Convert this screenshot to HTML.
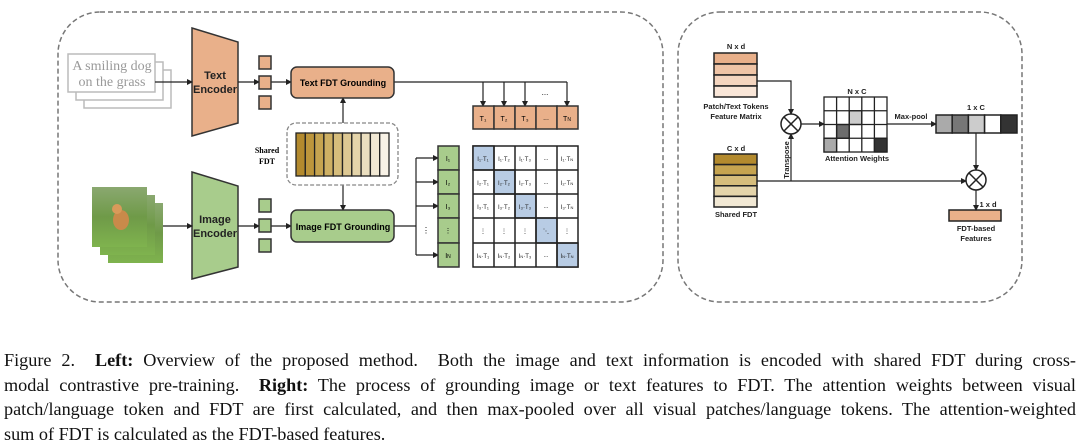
<!DOCTYPE html>
<html><head><meta charset="utf-8"><style>
body{margin:0;width:1080px;height:441px;background:#fff;overflow:hidden;position:relative}
.cap{position:absolute;left:4px;width:1072px;font-family:"Liberation Serif",serif;font-size:18.2px;line-height:20px;text-align:justify;text-align-last:justify;white-space:nowrap;color:#111}
.cap.l{text-align-last:left}
svg text{font-family:"Liberation Sans",sans-serif}
</style></head><body>
<svg width="1080" height="441" style="position:absolute;left:0;top:0">
<defs>
<marker id="a" markerWidth="6" markerHeight="6" refX="5" refY="3" orient="auto" markerUnits="userSpaceOnUse"><path d="M0,0 L6,3 L0,6 z" fill="#222"/></marker>
<linearGradient id="dog" x1="0" y1="0" x2="0" y2="1"><stop offset="0" stop-color="#8aa870"/><stop offset="0.5" stop-color="#6f9a48"/><stop offset="1" stop-color="#7fb34e"/></linearGradient>
</defs>
<g fill="none" stroke="#777" stroke-width="1.5" stroke-dasharray="5,3">
<rect x="58" y="12" width="605" height="290" rx="42"/>
<rect x="678" y="12" width="344" height="290" rx="42"/>
</g>
<!-- text stack -->
<g fill="#fff" stroke="#bbb" stroke-width="1.5">
<rect x="84" y="70" width="87" height="38"/><rect x="76" y="62" width="87" height="38"/><rect x="68" y="54" width="87" height="38"/>
</g>
<text x="112" y="70" font-family="Liberation Serif" style="font-family:'Liberation Serif',serif" font-size="14" fill="#999" text-anchor="middle">A smiling dog</text>
<text x="112" y="86" style="font-family:'Liberation Serif',serif" font-size="14" fill="#999" text-anchor="middle">on the grass</text>
<!-- image stack -->
<rect x="108" y="203" width="55" height="60" fill="url(#dog)"/>
<rect x="100" y="195" width="55" height="60" fill="url(#dog)"/>
<rect x="92" y="187" width="55" height="60" fill="url(#dog)"/>
<ellipse cx="121" cy="220" rx="8" ry="10" fill="#c98a4a"/><circle cx="117" cy="209" r="5" fill="#d99a5a"/>
<!-- encoders -->
<polygon points="192,28 238,42 238,123 192,136" fill="#e9b08a" stroke="#333" stroke-width="1.5"/>
<text x="215" y="79" font-size="11" font-weight="bold" text-anchor="middle" fill="#222">Text</text>
<text x="215" y="93" font-size="11" font-weight="bold" text-anchor="middle" fill="#222">Encoder</text>
<polygon points="192,172 238,186 238,267 192,279" fill="#a8cc8c" stroke="#333" stroke-width="1.5"/>
<text x="215" y="223" font-size="11" font-weight="bold" text-anchor="middle" fill="#222">Image</text>
<text x="215" y="237" font-size="11" font-weight="bold" text-anchor="middle" fill="#222">Encoder</text>
<g stroke="#222" stroke-width="1.2" fill="none" marker-end="url(#a)">
<line x1="155" y1="82" x2="192" y2="82"/><line x1="238" y1="82" x2="259" y2="82"/><line x1="271" y1="82" x2="291" y2="82"/>
<line x1="163" y1="226" x2="192" y2="226"/><line x1="238" y1="226" x2="259" y2="226"/><line x1="271" y1="226" x2="291" y2="226"/>
<line x1="343" y1="123" x2="343" y2="98"/><line x1="343" y1="185" x2="343" y2="210"/>
<line x1="483" y1="82" x2="483" y2="106"/><line x1="504" y1="82" x2="504" y2="106"/><line x1="525" y1="82" x2="525" y2="106"/><line x1="567" y1="82" x2="567" y2="106"/>
<line x1="416" y1="158" x2="438" y2="158"/><line x1="416" y1="182" x2="438" y2="182"/><line x1="416" y1="206" x2="438" y2="206"/><line x1="416" y1="255" x2="438" y2="255"/>
</g>
<g stroke="#222" stroke-width="1.2" fill="none">
<polyline points="394,82 567,82"/><line x1="394" y1="226" x2="416" y2="226"/><line x1="416" y1="158" x2="416" y2="255"/>
</g>
<text x="545" y="95" font-size="8" text-anchor="middle">...</text>
<text x="426" y="233" font-size="8" text-anchor="middle">⋮</text>
<g stroke="#333" stroke-width="1.5">
<rect x="259" y="56" width="12" height="13" fill="#e9b08a"/><rect x="259" y="76" width="12" height="13" fill="#e9b08a"/><rect x="259" y="96" width="12" height="13" fill="#e9b08a"/>
<rect x="259" y="199" width="12" height="13" fill="#a8cc8c"/><rect x="259" y="219" width="12" height="13" fill="#a8cc8c"/><rect x="259" y="239" width="12" height="13" fill="#a8cc8c"/>
<rect x="291" y="67" width="103" height="31" rx="6" fill="#e9b08a"/>
<rect x="291" y="210" width="103" height="32" rx="6" fill="#a8cc8c"/>
</g>
<text x="343" y="86" font-size="9" font-weight="bold" text-anchor="middle">Text FDT Grounding</text>
<text x="343" y="230" font-size="9" font-weight="bold" text-anchor="middle">Image FDT Grounding</text>
<rect x="287" y="123" width="111" height="62" rx="9" fill="none" stroke="#888" stroke-width="1.3" stroke-dasharray="4,2"/>
<g stroke="#222" stroke-width="1.3">
<rect x="296" y="133" width="9.3" height="43" fill="#b38a2e"/><rect x="305.3" y="133" width="9.3" height="43" fill="#bd963c"/><rect x="314.6" y="133" width="9.3" height="43" fill="#c6a450"/><rect x="323.9" y="133" width="9.3" height="43" fill="#ceb064"/><rect x="333.2" y="133" width="9.3" height="43" fill="#d6bd7c"/><rect x="342.5" y="133" width="9.3" height="43" fill="#ddc893"/><rect x="351.8" y="133" width="9.3" height="43" fill="#e4d4aa"/><rect x="361.1" y="133" width="9.3" height="43" fill="#ebdfc0"/><rect x="370.4" y="133" width="9.3" height="43" fill="#f1e8d4"/><rect x="379.7" y="133" width="9.3" height="43" fill="#f8f2e6"/>
</g>
<text x="267" y="153" style="font-family:'Liberation Serif',serif" font-size="8" font-weight="bold" text-anchor="middle">Shared</text>
<text x="267" y="164" style="font-family:'Liberation Serif',serif" font-size="8" font-weight="bold" text-anchor="middle">FDT</text>
<!-- T row -->
<g stroke="#333" stroke-width="1.5" fill="#e9b08a">
<rect x="473" y="106" width="21" height="23"/><rect x="494" y="106" width="21" height="23"/><rect x="515" y="106" width="21" height="23"/><rect x="536" y="106" width="21" height="23"/><rect x="557" y="106" width="21" height="23"/>
</g>
<g font-size="7" text-anchor="middle">
<text x="483" y="121">T₁</text><text x="504" y="121">T₂</text><text x="525" y="121">T₃</text><text x="546" y="120">...</text><text x="567" y="121">T<tspan font-size="5">N</tspan></text>
</g>
<!-- I column -->
<g stroke="#333" stroke-width="1.5" fill="#a8cc8c">
<rect x="438" y="146" width="21" height="24"/><rect x="438" y="170" width="21" height="24"/><rect x="438" y="194" width="21" height="24"/><rect x="438" y="218" width="21" height="25"/><rect x="438" y="243" width="21" height="24"/>
</g>
<g font-size="7" text-anchor="middle"><text x="448" y="161">I₁</text><text x="448" y="185">I₂</text><text x="448" y="209">I₃</text><text x="448" y="233">⋮</text><text x="448" y="258">I<tspan font-size="5">N</tspan></text></g>
<!-- matrix -->
<g stroke="#222" stroke-width="1.5" fill="#fff">
<rect x="473" y="146" width="105" height="121"/>
<rect x="473" y="146" width="21" height="24" fill="#b8cce4"/><rect x="494" y="170" width="21" height="24" fill="#b8cce4"/><rect x="515" y="194" width="21" height="24" fill="#b8cce4"/><rect x="536" y="218" width="21" height="25" fill="#b8cce4"/><rect x="557" y="243" width="21" height="24" fill="#b8cce4"/>
<line x1="494" y1="146" x2="494" y2="267"/><line x1="515" y1="146" x2="515" y2="267"/><line x1="536" y1="146" x2="536" y2="267"/><line x1="557" y1="146" x2="557" y2="267"/>
<line x1="473" y1="170" x2="578" y2="170"/><line x1="473" y1="194" x2="578" y2="194"/><line x1="473" y1="218" x2="578" y2="218"/><line x1="473" y1="243" x2="578" y2="243"/>
</g>
<g font-size="6" text-anchor="middle" fill="#222">
<text x="483" y="161">I₁·T₁</text><text x="504" y="161">I₁·T₂</text><text x="525" y="161">I₁·T₃</text><text x="546" y="160">...</text><text x="567" y="161">I₁·T<tspan font-size="4">N</tspan></text>
<text x="483" y="185">I₂·T₁</text><text x="504" y="185">I₂·T₂</text><text x="525" y="185">I₂·T₃</text><text x="546" y="184">...</text><text x="567" y="185">I₂·T<tspan font-size="4">N</tspan></text>
<text x="483" y="209">I₃·T₁</text><text x="504" y="209">I₃·T₂</text><text x="525" y="209">I₃·T₃</text><text x="546" y="208">...</text><text x="567" y="209">I₃·T<tspan font-size="4">N</tspan></text>
<text x="483" y="233">⋮</text><text x="504" y="233">⋮</text><text x="525" y="233">⋮</text><text x="546" y="233">⋱</text><text x="567" y="233">⋮</text>
<text x="483" y="258">I<tspan font-size="4">N</tspan>·T₁</text><text x="504" y="258">I<tspan font-size="4">N</tspan>·T₂</text><text x="525" y="258">I<tspan font-size="4">N</tspan>·T₃</text><text x="546" y="257">...</text><text x="567" y="258">I<tspan font-size="4">N</tspan>·T<tspan font-size="4">N</tspan></text>
</g>
<!-- RIGHT -->
<g font-size="7.5" font-weight="bold" text-anchor="middle" fill="#222">
<text x="736" y="49">N x d</text><text x="736" y="109">Patch/Text Tokens</text><text x="736" y="119">Feature Matrix</text>
<text x="736" y="151">C x d</text><text x="736" y="217">Shared FDT</text>
<text x="857" y="94">N x C</text><text x="857" y="161">Attention Weights</text>
<text x="976" y="110">1 x C</text><text x="911" y="119">Max-pool</text>
<text x="988" y="207">1 x d</text><text x="976" y="231">FDT-based</text><text x="976" y="241">Features</text>
<text transform="translate(789,160) rotate(-90)" x="0" y="0">Transpose</text>
</g>
<g stroke="#222" stroke-width="1.5">
<rect x="714" y="53" width="43" height="11" fill="#e9b08a"/><rect x="714" y="64" width="43" height="11" fill="#efc4a6"/><rect x="714" y="75" width="43" height="11" fill="#f4d5bf"/><rect x="714" y="86" width="43" height="11" fill="#f9e6d8"/>
<rect x="714" y="154" width="43" height="10.6" fill="#b38a2e"/><rect x="714" y="164.6" width="43" height="10.6" fill="#c6a450"/><rect x="714" y="175.2" width="43" height="10.6" fill="#d6bd7c"/><rect x="714" y="185.8" width="43" height="10.6" fill="#e4d4aa"/><rect x="714" y="196.4" width="43" height="10.6" fill="#f1e8d4"/>
<rect x="949" y="210" width="52" height="11" fill="#e9b08a"/>
</g>
<g stroke="#222" stroke-width="1.2" fill="none">
<polyline points="757,81 791,81 791,114" marker-end="url(#a)"/>
<line x1="757" y1="181" x2="966" y2="181" marker-end="url(#a)"/>
<line x1="791" y1="181" x2="791" y2="134" marker-end="url(#a)"/>
<line x1="801" y1="124" x2="824" y2="124" marker-end="url(#a)"/>
<line x1="887" y1="124" x2="936" y2="124" marker-end="url(#a)"/>
<line x1="976" y1="133" x2="976" y2="170" marker-end="url(#a)"/>
<line x1="976" y1="190" x2="976" y2="210" marker-end="url(#a)"/>
</g>
<g stroke="#222" stroke-width="1.5" fill="#fff">
<circle cx="791" cy="124" r="10"/><line x1="784" y1="117" x2="798" y2="131"/><line x1="798" y1="117" x2="784" y2="131"/>
<circle cx="976" cy="180" r="10"/><line x1="969" y1="173" x2="983" y2="187"/><line x1="983" y1="173" x2="969" y2="187"/>
</g>
<!-- attention matrix -->
<g stroke="#222" stroke-width="1.3" fill="#fff">
<rect x="824" y="97" width="63" height="55"/>
<rect x="849.2" y="110.75" width="12.6" height="13.75" fill="#ccc"/>
<rect x="836.6" y="124.5" width="12.6" height="13.75" fill="#6d6d6d"/>
<rect x="824" y="138.25" width="12.6" height="13.75" fill="#aaa"/>
<rect x="874.4" y="138.25" width="12.6" height="13.75" fill="#333"/>
<line x1="836.6" y1="97" x2="836.6" y2="152"/><line x1="849.2" y1="97" x2="849.2" y2="152"/><line x1="861.8" y1="97" x2="861.8" y2="152"/><line x1="874.4" y1="97" x2="874.4" y2="152"/>
<line x1="824" y1="110.75" x2="887" y2="110.75"/><line x1="824" y1="124.5" x2="887" y2="124.5"/><line x1="824" y1="138.25" x2="887" y2="138.25"/>
</g>
<g stroke="#222" stroke-width="1.5">
<rect x="936" y="115" width="16.2" height="18" fill="#aaa"/><rect x="952.2" y="115" width="16.2" height="18" fill="#777"/><rect x="968.4" y="115" width="16.2" height="18" fill="#ccc"/><rect x="984.6" y="115" width="16.2" height="18" fill="#fff"/><rect x="1000.8" y="115" width="16.2" height="18" fill="#333"/>
</g>
</svg>
<div class="cap" style="top:350px">Figure 2. &nbsp;<b>Left:</b> Overview of the proposed method. &nbsp;Both the image and text information is encoded with shared FDT during cross-</div>
<div class="cap" style="top:374.5px">modal contrastive pre-training. &nbsp;<b>Right:</b> The process of grounding image or text features to FDT. The attention weights between visual</div>
<div class="cap" style="top:399px">patch/language token and FDT are first calculated, and then max-pooled over all visual patches/language tokens. The attention-weighted</div>
<div class="cap l" style="top:423.5px">sum of FDT is calculated as the FDT-based features.</div>
</body></html>
